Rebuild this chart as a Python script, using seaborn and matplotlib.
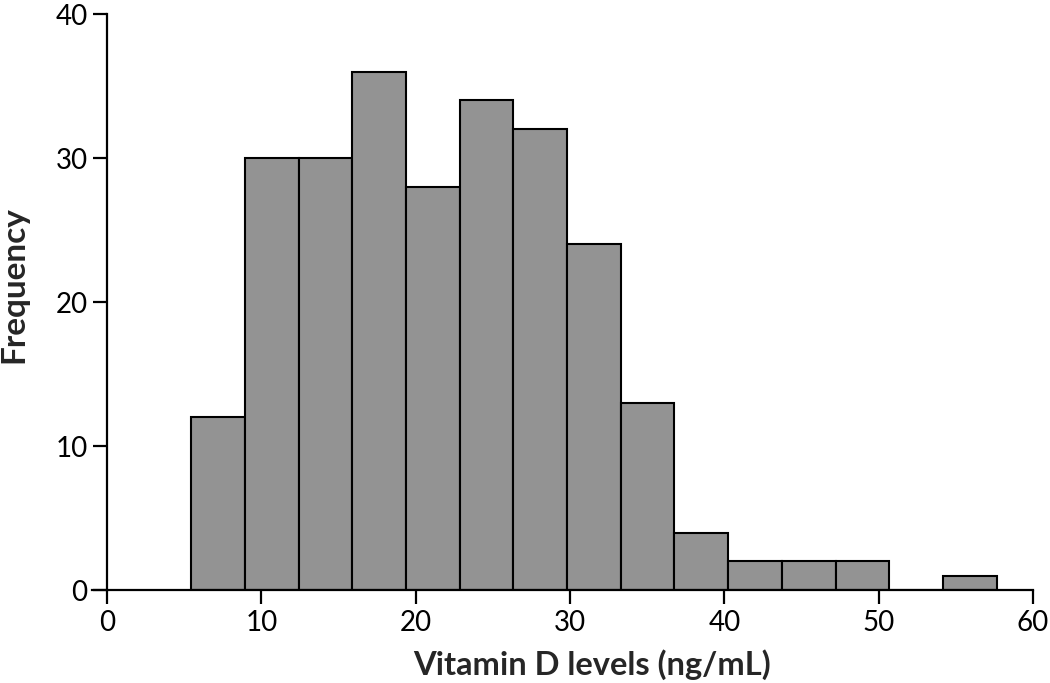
import numpy as np
import pandas as pd
import seaborn as sns
import matplotlib.pyplot as plt

# histogram: bin edges (ng/mL) and counts per bin
bin_edges = [5.45, 8.93, 12.41, 15.89, 19.37, 22.85, 26.33, 29.81,
             33.29, 36.77, 40.25, 43.73, 47.21, 50.69, 54.17, 57.65]
counts = [12, 30, 30, 36, 28, 34, 32, 24, 13, 4, 2, 2, 2, 0, 1]
x_ticks = [0, 10, 20, 30, 40, 50, 60]
y_ticks = [0, 10, 20, 30, 40]

edges = np.array(bin_edges)
df = pd.DataFrame({"level": (edges[:-1] + edges[1:]) / 2, "n": counts})

sns.set_theme(style="white")
plt.rcParams['font.family'] = ['Lato', 'DejaVu Sans']

fig = plt.figure(figsize=(10.5, 6.83), dpi=100)
ax = fig.add_axes([0.0872, 0.136, 0.8966, 0.8435])

sns.histplot(data=df, x="level", weights="n", bins=bin_edges, ax=ax,
             color="#939393", alpha=1, edgecolor="black", linewidth=1.5)

ax.set_xlim(-1.0, 60)
ax.set_ylim(0, 40)
ax.spines['left'].set_position(('data', 0))
for s in ['top', 'right']:
    ax.spines[s].set_visible(False)
for s in ['left', 'bottom']:
    ax.spines[s].set_linewidth(1.6)
    ax.spines[s].set_color('black')

ax.set_xticks(x_ticks)
ax.set_yticks(y_ticks)
ax.tick_params(axis='both', direction='out', length=10, width=1.6,
               color='black', labelsize=20, labelcolor='black', pad=4,
               left=True, bottom=True)

ax.set_xlabel("Vitamin D levels (ng/mL)", fontsize=23.5, fontweight='bold')
ax.xaxis.label.set_va('center')
ax.xaxis.set_label_coords(0.532, -0.13)
ax.set_ylabel("")
fig.text(0.013, 0.583, "Frequency", rotation=90, fontsize=24,
         fontweight='bold', ha='center', va='center')

fig.savefig("out.png", dpi=100)
